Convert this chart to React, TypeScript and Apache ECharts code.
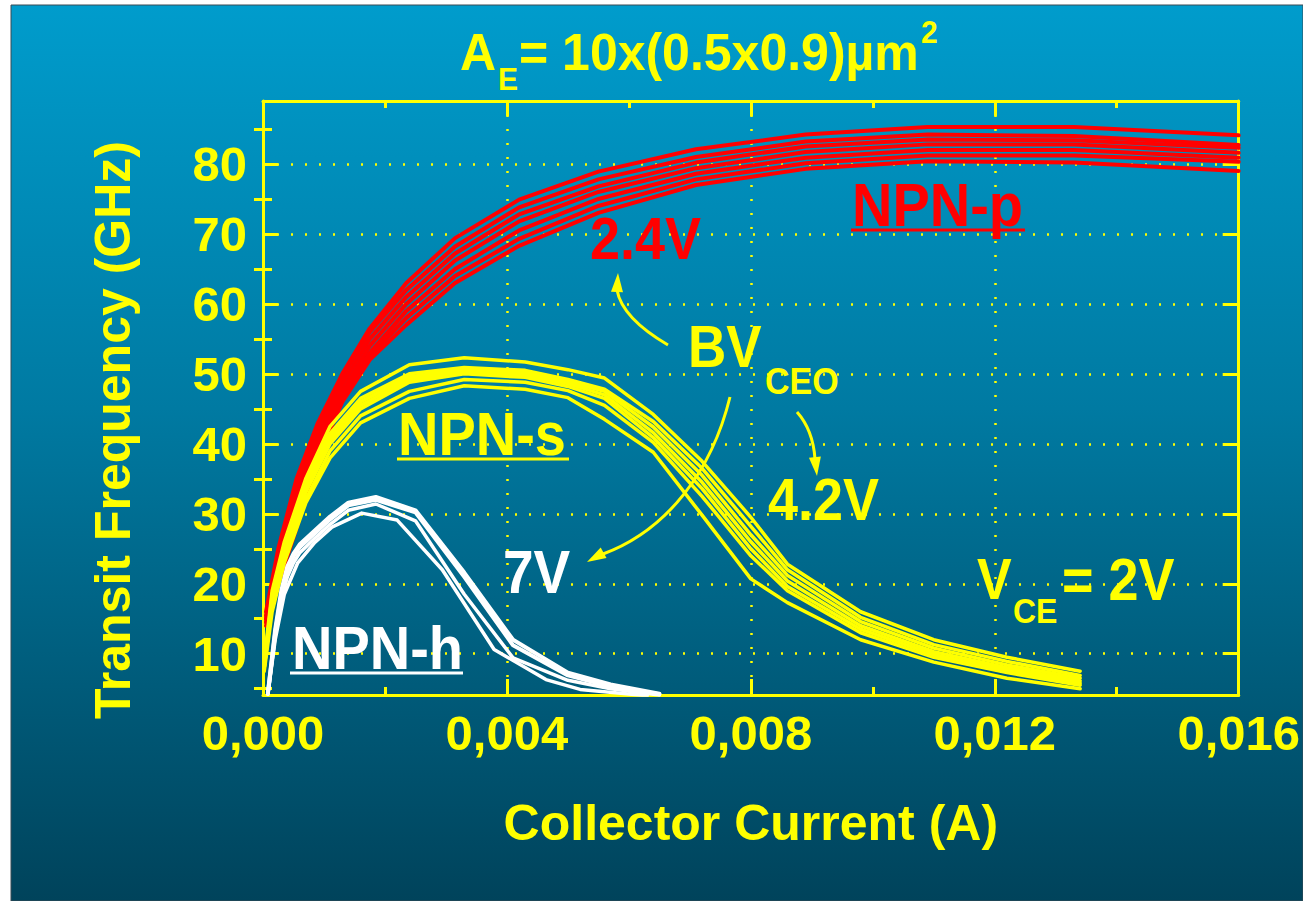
import React, { useEffect, useRef } from "react";
import * as echarts from "echarts";

// ---------- data ----------
const X_TICKS = [0, 0.004, 0.008, 0.012, 0.016];
const Y_MAJOR_TICKS = [10, 20, 30, 40, 50, 60, 70, 80];
const Y_MINOR_TICKS = [5, 15, 25, 35, 45, 55, 65, 75, 85];

// NPN-p (red) – collector current in mA, fT in GHz
const RED_X_MA = [0.05, 0.25, 0.55, 0.9, 1.3, 1.75, 2.35, 3.15, 4.2, 5.5, 7.1, 8.9, 10.9, 13.3, 16.0];
const RED_1 = [16, 25, 35, 43, 50, 56.5, 63, 69.4, 74.9, 78.9, 82.1, 84.2, 85.3, 85.3, 84.1];
const RED_2 = [15.5, 24, 34, 42, 49.5, 56, 62, 68.2, 73.8, 77.8, 81, 83.2, 84.2, 84.0, 82.7];
const RED_3 = [15, 23.5, 33, 41, 48.5, 55, 61, 67.2, 72.8, 76.8, 80.2, 82.5, 83.5, 83.4, 82.3];
const RED_4 = [15, 23, 32, 40, 47.5, 54, 60, 66.2, 71.8, 76, 79.4, 81.7, 82.8, 82.8, 81.6];
const RED_5 = [14.5, 22, 31, 39, 47, 53, 59, 65, 70.5, 75, 78.6, 80.9, 82.0, 82.0, 80.9];
const RED_6 = [14.5, 21, 29.5, 38.5, 46.5, 52.5, 58, 64, 69.3, 74, 77.8, 80.1, 81.2, 81.2, 80.3];
const RED_7 = [14, 20, 28, 38, 46, 52, 57, 63, 68.3, 73, 77, 79.3, 80.4, 80.2, 79.0];

// NPN-s (yellow)
const YEL_X_MA = [0.02, 0.15, 0.35, 0.7, 1.1, 1.6, 2.4, 3.3, 4.3, 5.0, 5.6, 6.4, 7.2, 8.0, 8.6, 9.8, 11.0, 12.2, 13.4];
const YEL_1 = [9, 19, 26, 35, 42.5, 47.5, 51.3, 52.3, 51.7, 50.6, 49.4, 44.2, 37.5, 29.5, 22.8, 16.0, 12.0, 9.5, 7.5];
const YEL_2 = [8.5, 18.5, 25.5, 34.5, 41.5, 46.5, 50.0, 50.9, 50.5, 49.2, 47.8, 43.2, 36.5, 28.2, 22.0, 15.2, 11.3, 8.9, 6.9];
const YEL_3 = [8.5, 18, 25, 34, 41, 46, 49.6, 50.6, 50.2, 48.9, 47.5, 42.4, 35.5, 27.0, 21.2, 14.6, 10.8, 8.4, 6.5];
const YEL_4 = [8, 18, 25, 33.5, 40.5, 45.5, 49.2, 50.3, 49.8, 48.6, 47.0, 41.6, 34.5, 26.0, 20.4, 14.0, 10.3, 8.0, 6.1];
const YEL_5 = [8, 17.5, 24.5, 33, 40, 45, 48.8, 50.0, 49.5, 48.2, 46.5, 40.9, 33.6, 25.0, 19.6, 13.5, 9.9, 7.6, 5.8];
const YEL_6 = [8, 17, 24, 32, 39, 44, 47.5, 49.2, 48.8, 47.6, 45.5, 40.2, 32.5, 24.0, 19.0, 13.0, 9.5, 7.3, 5.5];
const YEL_7 = [7.5, 16, 23, 31.5, 38, 43, 46.5, 48.3, 47.8, 46.6, 43.5, 38.8, 29.8, 20.7, 17.3, 12.0, 8.8, 6.5, 5.0];

// NPN-h (white)
const WHT_X_MA = [0.08, 0.2, 0.3, 0.4, 0.5, 0.6, 0.85, 1.1, 1.4, 1.85, 2.5, 3.3, 4.1, 5.0, 5.7, 6.5];
const WHT_1 = [4.4, 13.5, 19.0, 22.5, 24.3, 25.6, 27.6, 29.6, 31.6, 32.4, 30.5, 21.6, 12.0, 7.3, 5.6, 4.3];
const WHT_2 = [4.3, 13.0, 18.5, 22.0, 23.9, 25.2, 27.2, 29.2, 31.2, 32.0, 30.2, 21.0, 11.2, 6.9, 5.3, 4.2];
const WHT_3 = [4.2, 12.5, 17.8, 21.0, 23.0, 24.4, 26.5, 28.5, 30.5, 31.4, 29.0, 18.5, 9.4, 6.2, 5.0, 4.1];
const WHT_LOW_X_MA = [0.08, 0.2, 0.35, 0.57, 0.85, 1.13, 1.62, 2.2, 2.94, 3.79, 4.64, 5.2, 6.3];
const WHT_4 = [4.2, 12.0, 18.5, 23.0, 25.9, 28.1, 30.1, 29.1, 22.0, 10.6, 6.3, 4.9, 4.0];

// ---------- styling ----------
const YEL = "#ffff00";
const RED = "#ff0000";
const WHITE = "#ffffff";
const FONT = '"Liberation Sans", Arial, Helvetica, sans-serif';
const Y_MIN = 4.1;
const Y_MAX = 89;

function pairs(xsMa: number[], ys: number[]) {
  return xsMa.map((x, i) => [x / 1000, ys[i]]);
}

function lineSeries(name: string, xs: number[], ys: number[], color: string, width: number) {
  return {
    type: "line",
    name,
    data: pairs(xs, ys),
    xAxisIndex: 0,
    yAxisIndex: 0,
    symbol: "none",
    showSymbol: false,
    smooth: false,
    silent: true,
    clip: true,
    lineStyle: { color, width, cap: "round", join: "round" },
  };
}

function txt(text: string, x: number, y: number, size: number, color: string, extra: any = {}) {
  return {
    type: "text",
    x,
    y,
    z: 100,
    scaleY: extra.scaleY ?? 1.1,
    rotation: extra.rotation ?? 0,
    silent: true,
    style: {
      text,
      fill: color,
      font: `bold ${size}px ${FONT}`,
      align: extra.align ?? "left",
      verticalAlign: "middle",
      textAlign: extra.align ?? "left",
      textVerticalAlign: "middle",
    },
  };
}

function underline(x1: number, x2: number, y: number, color: string) {
  return {
    type: "line",
    z: 100,
    silent: true,
    shape: { x1, y1: y, x2, y2: y },
    style: { stroke: color, lineWidth: 3 },
  };
}

function arrowHead(tipX: number, tipY: number, fromX: number, fromY: number, len: number, halfW: number) {
  const dx = tipX - fromX;
  const dy = tipY - fromY;
  const d = Math.sqrt(dx * dx + dy * dy) || 1;
  const ux = dx / d;
  const uy = dy / d;
  const bx = tipX - ux * len;
  const by = tipY - uy * len;
  return {
    type: "polygon",
    z: 100,
    silent: true,
    shape: {
      points: [
        [tipX, tipY],
        [bx - uy * halfW, by + ux * halfW],
        [bx + uy * halfW, by - ux * halfW],
      ],
    },
    style: { fill: YEL },
  };
}

function curve(shape: any) {
  return {
    type: "bezierCurve",
    z: 100,
    silent: true,
    shape,
    style: { stroke: YEL, lineWidth: 3, fill: null },
  };
}

export default function App() {
  const ref = useRef<HTMLDivElement>(null);

  useEffect(() => {
    if (!ref.current) return;
    const chart = echarts.init(ref.current, null, { renderer: "svg" });

    const axisLineStyle = { color: YEL, width: 3 };
    const xFormatter = (v: number) => v.toFixed(3).replace(".", ",");

    const option: any = {
      animation: false,
      backgroundColor: "#ffffff",
      grid: { left: 263, top: 101, width: 979, height: 594, containLabel: false },
      xAxis: [
        {
          type: "value",
          position: "bottom",
          min: X_TICKS[0],
          max: X_TICKS[X_TICKS.length - 1],
          interval: 0.004,
          axisLine: { show: true, onZero: false, lineStyle: axisLineStyle },
          axisTick: { show: true, inside: true, length: 16, lineStyle: { color: YEL, width: 3 } },
          minorTick: { show: true, splitNumber: 2, length: 8, lineStyle: { color: YEL, width: 3 } },
          axisLabel: {
            show: true,
            color: YEL,
            fontSize: 49,
            fontWeight: "bold",
            fontFamily: FONT,
            margin: 13,
            formatter: xFormatter,
          },
          splitLine: { show: true, lineStyle: { color: YEL, width: 2.5, type: [2, 12] } },
          minorSplitLine: { show: false },
          name: "Collector Current (A)",
          nameLocation: "middle",
          nameGap: 103,
          nameTextStyle: { color: YEL, fontSize: 50, fontWeight: "bold", fontFamily: FONT },
        },
        {
          type: "value",
          position: "top",
          min: X_TICKS[0],
          max: X_TICKS[X_TICKS.length - 1],
          interval: 0.004,
          axisLine: { show: true, onZero: false, lineStyle: axisLineStyle },
          axisTick: { show: true, inside: true, length: 15, lineStyle: { color: YEL, width: 3 } },
          minorTick: { show: true, splitNumber: 2, length: 7, lineStyle: { color: YEL, width: 3 } },
          axisLabel: { show: false },
          splitLine: { show: false },
        },
      ],
      yAxis: [
        {
          type: "value",
          position: "left",
          min: Y_MIN,
          max: Y_MAX,
          splitNumber: 8,
          axisLine: { show: true, onZero: false, lineStyle: axisLineStyle },
          axisTick: {
            show: true,
            inside: true,
            length: 15,
            customValues: Y_MAJOR_TICKS,
            lineStyle: { color: YEL, width: 3 },
          },
          axisLabel: {
            show: true,
            customValues: Y_MAJOR_TICKS,
            color: YEL,
            fontSize: 49,
            fontWeight: "bold",
            fontFamily: FONT,
            margin: 16,
          },
          splitLine: { show: true, lineStyle: { color: YEL, width: 2.5, type: [2, 12] } },
        },
        {
          type: "value",
          position: "left",
          min: Y_MIN,
          max: Y_MAX,
          splitNumber: 8,
          axisLine: { show: false },
          axisTick: {
            show: true,
            inside: true,
            length: 9,
            customValues: Y_MINOR_TICKS,
            lineStyle: { color: YEL, width: 3 },
          },
          axisLabel: { show: false },
          splitLine: { show: false },
        },
        {
          type: "value",
          position: "right",
          min: Y_MIN,
          max: Y_MAX,
          splitNumber: 8,
          axisLine: { show: true, onZero: false, lineStyle: axisLineStyle },
          axisTick: {
            show: true,
            inside: true,
            length: 16,
            customValues: Y_MAJOR_TICKS,
            lineStyle: { color: YEL, width: 3 },
          },
          axisLabel: { show: false },
          splitLine: { show: false },
        },
        {
          type: "value",
          position: "right",
          min: Y_MIN,
          max: Y_MAX,
          splitNumber: 8,
          axisLine: { show: false },
          axisTick: {
            show: true,
            inside: true,
            length: 9,
            customValues: Y_MINOR_TICKS,
            lineStyle: { color: YEL, width: 3 },
          },
          axisLabel: { show: false },
          splitLine: { show: false },
        },
      ],
      series: [
        lineSeries("NPN-p 1", RED_X_MA, RED_1, RED, 4),
        lineSeries("NPN-p 2", RED_X_MA, RED_2, RED, 4),
        lineSeries("NPN-p 3", RED_X_MA, RED_3, RED, 4),
        lineSeries("NPN-p 4", RED_X_MA, RED_4, RED, 4),
        lineSeries("NPN-p 5", RED_X_MA, RED_5, RED, 4),
        lineSeries("NPN-p 6", RED_X_MA, RED_6, RED, 4),
        lineSeries("NPN-p 7", RED_X_MA, RED_7, RED, 4),
        lineSeries("NPN-s 1", YEL_X_MA, YEL_1, YEL, 3.5),
        lineSeries("NPN-s 2", YEL_X_MA, YEL_2, YEL, 3.5),
        lineSeries("NPN-s 3", YEL_X_MA, YEL_3, YEL, 3.5),
        lineSeries("NPN-s 4", YEL_X_MA, YEL_4, YEL, 3.5),
        lineSeries("NPN-s 5", YEL_X_MA, YEL_5, YEL, 3.5),
        lineSeries("NPN-s 6", YEL_X_MA, YEL_6, YEL, 3.5),
        lineSeries("NPN-s 7", YEL_X_MA, YEL_7, YEL, 3.5),
        lineSeries("NPN-h 1", WHT_X_MA, WHT_1, WHITE, 4),
        lineSeries("NPN-h 2", WHT_X_MA, WHT_2, WHITE, 4),
        lineSeries("NPN-h 3", WHT_X_MA, WHT_3, WHITE, 3.5),
        lineSeries("NPN-h 4", WHT_LOW_X_MA, WHT_4, WHITE, 3.5),
      ],
      graphic: [
        {
          type: "rect",
          z: -100,
          silent: true,
          shape: { x: 11, y: 5, width: 1292, height: 896 },
          style: {
            fill: new echarts.graphic.LinearGradient(0, 0, 0, 1, [
              { offset: 0, color: "#009ccc" },
              { offset: 0.45, color: "#007aa2" },
              { offset: 1, color: "#00435b" },
            ]),
            stroke: "#3a4a55",
            lineWidth: 1,
          },
        },
        // title
        txt("A", 460, 52, 50, YEL, { scaleY: 1.05 }),
        txt("E", 498, 79, 30, YEL, { scaleY: 1.05 }),
        txt("= 10x(0.5x0.9)µm", 519, 52, 50, YEL, { scaleY: 1.05 }),
        txt("2", 921, 32, 30, YEL, { scaleY: 1.05 }),
        // y axis title
        txt("Transit Frequency (GHz)", 113, 430, 50, YEL, { rotation: Math.PI / 2, align: "center", scaleY: 1 }),
        // annotations
        txt("NPN-p", 852, 205, 56, RED),
        underline(851, 1025, 230, RED),
        txt("2.4V", 590, 239, 54, RED),
        txt("BV", 688, 347, 53, YEL),
        txt("CEO", 765, 381, 34, YEL),
        txt("NPN-s", 398, 434, 56, YEL),
        underline(397, 569, 459, YEL),
        txt("4.2V", 768, 500, 54, YEL),
        txt("7V", 503, 572, 55, WHITE),
        txt("V", 977, 580, 52, YEL),
        txt("CE", 1013, 611, 32, YEL),
        txt("= 2V", 1062, 580, 54, YEL),
        txt("NPN-h", 292, 648, 56, WHITE),
        underline(290, 463, 673, WHITE),
        // arrows
        curve({ x1: 668, y1: 345, x2: 617, y2: 290, cpx1: 622, cpy1: 318 }),
        arrowHead(618, 273, 617, 292, 19, 6),
        curve({ x1: 797, y1: 412, x2: 815, y2: 459, cpx1: 813, cpy1: 430 }),
        arrowHead(817, 476, 815, 458, 19, 6),
        curve({ x1: 730, y1: 397, x2: 603, y2: 554, cpx1: 712, cpy1: 470, cpx2: 668, cpy2: 530 }),
        arrowHead(587, 562, 605, 552, 19, 6),
      ],
    };

    chart.setOption(option);
    return () => {
      chart.dispose();
    };
  }, []);

  return (
    <div
      ref={ref}
      style={{ position: "fixed", left: 0, top: 0, width: 1303, height: 901 }}
    />
  );
}
